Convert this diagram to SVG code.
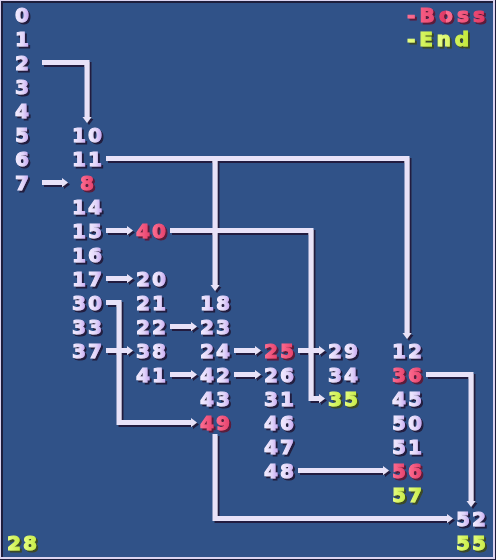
<svg xmlns="http://www.w3.org/2000/svg" width="496" height="560" viewBox="0 0 496 560">
<style>
text{font-family:"DejaVu Sans","Liberation Sans",sans-serif;font-weight:bold;font-size:20px;letter-spacing:2px;text-anchor:middle;stroke-width:1.1px;stroke-linejoin:miter}
.L{fill:url(#gL);stroke:url(#gL);filter:url(#shL)}
.L1{fill:url(#gL1);stroke:url(#gL1);filter:url(#shL)}
.R{fill:url(#gR);stroke:url(#gR);filter:url(#shR)}
.R1{fill:url(#gR1);stroke:url(#gR1);filter:url(#shR)}
.Y{fill:url(#gY);stroke:url(#gY);filter:url(#shY)}
.leg{text-anchor:start;letter-spacing:0}
#connectors path{fill:none;stroke:#e8e2f8;stroke-width:5;stroke-linejoin:miter;marker-end:url(#ah)}
</style>
<defs>
<linearGradient id="gL" x1="0" y1="0" x2="0.5" y2="0" spreadMethod="repeat"><stop offset="0" stop-color="#f4eeff"/><stop offset="0.5" stop-color="#e2d6fa"/><stop offset="1" stop-color="#bd96ee"/></linearGradient>
<linearGradient id="gL1" x1="0" y1="0" x2="1" y2="0"><stop offset="0" stop-color="#f4eeff"/><stop offset="0.5" stop-color="#e2d6fa"/><stop offset="1" stop-color="#bd96ee"/></linearGradient>
<linearGradient id="gR" x1="0" y1="0" x2="0.5" y2="0" spreadMethod="repeat"><stop offset="0" stop-color="#ff6f92"/><stop offset="1" stop-color="#e23a66"/></linearGradient>
<linearGradient id="gR1" x1="0" y1="0" x2="1" y2="0"><stop offset="0" stop-color="#ff6f92"/><stop offset="1" stop-color="#e23a66"/></linearGradient>
<linearGradient id="gY" x1="0" y1="0" x2="0.5" y2="0" spreadMethod="repeat"><stop offset="0" stop-color="#e8ff84"/><stop offset="1" stop-color="#c2e83a"/></linearGradient>
<filter id="shL" x="-20%" y="-20%" width="150%" height="150%"><feFlood flood-color="#211f3f"/><feComposite in2="SourceAlpha" operator="in"/><feOffset dx="2" dy="2"/><feMerge><feMergeNode/><feMergeNode in="SourceGraphic"/></feMerge></filter>
<filter id="shR" x="-20%" y="-20%" width="150%" height="150%"><feFlood flood-color="#5a1a3a"/><feComposite in2="SourceAlpha" operator="in"/><feOffset dx="2" dy="2"/><feMerge><feMergeNode/><feMergeNode in="SourceGraphic"/></feMerge></filter>
<filter id="shY" x="-20%" y="-20%" width="150%" height="150%"><feFlood flood-color="#3a4828"/><feComposite in2="SourceAlpha" operator="in"/><feOffset dx="2" dy="2"/><feMerge><feMergeNode/><feMergeNode in="SourceGraphic"/></feMerge></filter>
<filter id="shC" x="-5%" y="-5%" width="110%" height="110%"><feFlood flood-color="#211f3f"/><feComposite in2="SourceAlpha" operator="in"/><feOffset dx="2" dy="2"/><feMerge><feMergeNode/><feMergeNode in="SourceGraphic"/></feMerge></filter>
<marker id="ah" markerUnits="userSpaceOnUse" viewBox="0 -5 7 10" refX="0.5" refY="0" markerWidth="7" markerHeight="10" orient="auto"><path d="M0,-4.5 L6,0 L0,4.5 Z" fill="#e8e2f8"/></marker>
</defs>
<rect x="0" y="0" width="496" height="560" fill="#1e1e3c"/>
<rect x="0" y="0" width="495" height="559" fill="#dcd4f0"/>
<rect x="1" y="1" width="492" height="556" fill="#1e1e3c"/>
<rect x="3" y="3" width="490" height="554" fill="#305288"/>
<g id="connectors" filter="url(#shC)">
<path d="M42,62.5 H87 V117.5"/>
<path d="M106,158.5 H407 V333.5"/>
<path d="M215,158.5 V285.5"/>
<path d="M42,182.5 H62.5"/>
<path d="M106,230.5 H127.5"/>
<path d="M170,230.5 H311 V398.5 H319.5"/>
<path d="M106,278.5 H127.5"/>
<path d="M106,302.5 H119 V422.5 H191.5"/>
<path d="M106,350.5 H127.5"/>
<path d="M170,326.5 H191.5"/>
<path d="M234,350.5 H255.5"/>
<path d="M298,350.5 H319.5"/>
<path d="M170,374.5 H191.5"/>
<path d="M234,374.5 H255.5"/>
<path d="M215,434 V518.5 H447.5"/>
<path d="M298,470.5 H383.5"/>
<path d="M426,374.5 H471 V501.5"/>
</g>
<g id="legend">
<text class="R leg" x="407" y="22" textLength="78" lengthAdjust="spacing">-Boss</text>
<text class="Y leg" x="407" y="46" textLength="62" lengthAdjust="spacing">-End</text>
</g>
<g id="n0"><text class="L1" x="23" y="22">0</text></g>
<g id="n1"><text class="L1" x="23" y="46">1</text></g>
<g id="n2"><text class="L1" x="23" y="70">2</text></g>
<g id="n3"><text class="L1" x="23" y="94">3</text></g>
<g id="n4"><text class="L1" x="23" y="118">4</text></g>
<g id="n5"><text class="L1" x="23" y="142">5</text></g>
<g id="n6"><text class="L1" x="23" y="166">6</text></g>
<g id="n7"><text class="L1" x="23" y="190">7</text></g>
<g id="n28"><text class="Y" x="23" y="550">28</text></g>
<g id="n10"><text class="L" x="88" y="142">10</text></g>
<g id="n11"><text class="L" x="88" y="166">11</text></g>
<g id="n8"><text class="R1" x="88" y="190">8</text></g>
<g id="n14"><text class="L" x="88" y="214">14</text></g>
<g id="n15"><text class="L" x="88" y="238">15</text></g>
<g id="n16"><text class="L" x="88" y="262">16</text></g>
<g id="n17"><text class="L" x="88" y="286">17</text></g>
<g id="n30"><text class="L" x="88" y="310">30</text></g>
<g id="n33"><text class="L" x="88" y="334">33</text></g>
<g id="n37"><text class="L" x="88" y="358">37</text></g>
<g id="n40"><text class="R" x="152" y="238">40</text></g>
<g id="n20"><text class="L" x="152" y="286">20</text></g>
<g id="n21"><text class="L" x="152" y="310">21</text></g>
<g id="n22"><text class="L" x="152" y="334">22</text></g>
<g id="n38"><text class="L" x="152" y="358">38</text></g>
<g id="n41"><text class="L" x="152" y="382">41</text></g>
<g id="n18"><text class="L" x="216" y="310">18</text></g>
<g id="n23"><text class="L" x="216" y="334">23</text></g>
<g id="n24"><text class="L" x="216" y="358">24</text></g>
<g id="n42"><text class="L" x="216" y="382">42</text></g>
<g id="n43"><text class="L" x="216" y="406">43</text></g>
<g id="n49"><text class="R" x="216" y="430">49</text></g>
<g id="n25"><text class="R" x="280" y="358">25</text></g>
<g id="n26"><text class="L" x="280" y="382">26</text></g>
<g id="n31"><text class="L" x="280" y="406">31</text></g>
<g id="n46"><text class="L" x="280" y="430">46</text></g>
<g id="n47"><text class="L" x="280" y="454">47</text></g>
<g id="n48"><text class="L" x="280" y="478">48</text></g>
<g id="n29"><text class="L" x="344" y="358">29</text></g>
<g id="n34"><text class="L" x="344" y="382">34</text></g>
<g id="n35"><text class="Y" x="344" y="406">35</text></g>
<g id="n12"><text class="L" x="408" y="358">12</text></g>
<g id="n36"><text class="R" x="408" y="382">36</text></g>
<g id="n45"><text class="L" x="408" y="406">45</text></g>
<g id="n50"><text class="L" x="408" y="430">50</text></g>
<g id="n51"><text class="L" x="408" y="454">51</text></g>
<g id="n56"><text class="R" x="408" y="478">56</text></g>
<g id="n57"><text class="Y" x="408" y="502">57</text></g>
<g id="n52"><text class="L" x="472" y="526">52</text></g>
<g id="n55"><text class="Y" x="472" y="550">55</text></g>
</svg>
